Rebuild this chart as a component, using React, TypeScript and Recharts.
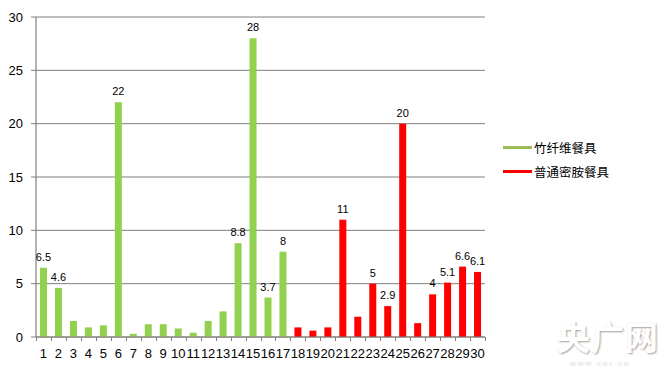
import { Bar, BarChart, CartesianGrid, LabelList, XAxis, YAxis } from 'recharts';

const categories = ['1', '2', '3', '4', '5', '6', '7', '8', '9', '10', '11', '12', '13', '14', '15',
  '16', '17', '18', '19', '20', '21', '22', '23', '24', '25', '26', '27', '28', '29', '30'];

// 竹纤维餐具 (items 1-17)
const bambooValues = [6.5, 4.6, 1.5, 0.9, 1.1, 22, 0.3, 1.2, 1.2, 0.8, 0.4, 1.5, 2.4, 8.8, 28, 3.7, 8,
  null, null, null, null, null, null, null, null, null, null, null, null, null];

// 普通密胺餐具 (items 18-30)
const melamineValues = [null, null, null, null, null, null, null, null, null, null, null, null, null, null, null, null, null,
  0.9, 0.6, 0.9, 11, 1.9, 5, 2.9, 20, 1.3, 4, 5.1, 6.6, 6.1];

const valueLabels = ['6.5', '4.6', '', '', '', '22', '', '', '', '', '', '', '', '8.8', '28', '3.7', '8',
  '', '', '', '11', '', '5', '2.9', '20', '', '4', '5.1', '6.6', '6.1'];

const legendItems = ['竹纤维餐具', '普通密胺餐具'];

const yTicks = [0, 5, 10, 15, 20, 25, 30];

const GREEN = '#92D050';
const GREEN_LEGEND = '#9BBB59';
const RED = '#FF0000';
const AXIS = '#7f7f7f';
const FONT = '"Liberation Sans", Arial, sans-serif';

const PLOT_LEFT = 36;
const PLOT_RIGHT = 485;
const BAND = (PLOT_RIGHT - PLOT_LEFT) / categories.length;

const data = categories.map((c, i) => ({
  name: c,
  bamboo: bambooValues[i],
  melamine: melamineValues[i],
  bLabel: bambooValues[i] != null ? valueLabels[i] : '',
  mLabel: melamineValues[i] != null ? valueLabels[i] : '',
}));

// Excel style: tick marks sit between categories
function XTick(props: any) {
  const { x, y, payload, index } = props;
  const left = Math.round(x - BAND / 2) + 0.5;
  const right = Math.round(x + BAND / 2) + 0.5;
  return (
    <g>
      <line x1={left} x2={left} y1={y} y2={y + 4} stroke={AXIS} />
      {index === categories.length - 1 ? (
        <line x1={right} x2={right} y1={y} y2={y + 4} stroke={AXIS} />
      ) : null}
      <text x={x} y={y + 21} textAnchor="middle" fontSize={13} fontFamily={FONT} fill="#000">
        {payload.value}
      </text>
    </g>
  );
}

function LegendBox() {
  const colors = [GREEN_LEGEND, RED];
  return (
    <div style={{ position: 'absolute', left: 503, top: 135 }}>
      {legendItems.map((name, i) => (
        <div key={name} style={{ display: 'flex', alignItems: 'center', height: 24 }}>
          <div style={{ width: 29, height: 3, background: colors[i], marginRight: 2 }} />
          <span style={{ fontFamily: '"Noto Sans CJK SC", sans-serif', fontSize: 12.5, color: '#000' }}>
            {name}
          </span>
        </div>
      ))}
    </div>
  );
}

export default function App() {
  return (
    <div
      style={{
        position: 'relative', width: 667, height: 374, margin: -8, background: '#fff',
        outline: '1px solid #8c8c8c', outlineOffset: -4,
      }}
    >
      <BarChart
        width={667}
        height={374}
        data={data}
        margin={{ top: 17, right: 182, bottom: 7, left: 0 }}
        barSize={7}
      >
        <CartesianGrid vertical={false} stroke={AXIS} />
        <XAxis
          dataKey="name"
          height={30}
          axisLine={{ stroke: AXIS }}
          tickLine={false}
          tickSize={0}
          tickMargin={0}
          interval={0}
          tick={<XTick />}
        />
        <YAxis
          width={36}
          domain={[0, 30]}
          ticks={yTicks}
          axisLine={{ stroke: AXIS, strokeWidth: 1.2 }}
          tickLine={{ stroke: AXIS }}
          tickSize={5}
          tick={{ fill: '#000', fontSize: 13, fontFamily: FONT }}
          tickMargin={8}
        />
        <Bar dataKey="bamboo" name="竹纤维餐具" stackId="a" fill={GREEN} isAnimationActive={false}>
          <LabelList dataKey="bLabel" position="top" offset={7} fontSize={11} fontFamily={FONT} fill="#000" />
        </Bar>
        <Bar dataKey="melamine" name="普通密胺餐具" stackId="a" fill={RED} isAnimationActive={false}>
          <LabelList dataKey="mLabel" position="top" offset={7} fontSize={11} fontFamily={FONT} fill="#000" />
        </Bar>
      </BarChart>
      <LegendBox />
      <svg
        width={667}
        height={374}
        style={{ position: 'absolute', left: 0, top: 0, pointerEvents: 'none' }}
      >
        <rect x={3.5} y={3.5} width={660} height={366} fill="none" stroke="#8c8c8c" strokeWidth={1.2} />
      </svg>
      <div
        style={{
          position: 'absolute', left: 557, top: 314, fontFamily: '"Noto Sans CJK SC", sans-serif',
          fontWeight: 700, fontSize: 33, lineHeight: '44px', color: '#fff',
          textShadow: '1px 1px 2px #a0a0a0', letterSpacing: 1,
        }}
      >
        央广网
      </div>
      <div
        style={{
          position: 'absolute', left: 570, top: 359, fontFamily: FONT, fontSize: 8, lineHeight: '10px',
          color: '#fff', textShadow: '0 0 1px #aaa', letterSpacing: 2,
        }}
      >
        www.cnr.cn
      </div>
    </div>
  );
}
